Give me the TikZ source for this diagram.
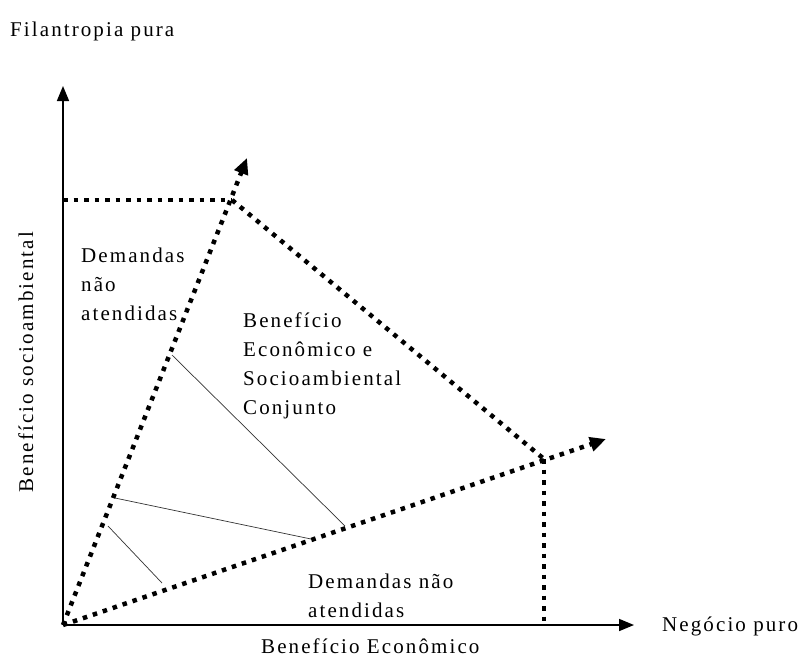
\documentclass[tikz,border=0pt]{standalone}
\usepackage{fontspec}
\setmainfont[LetterSpace=10]{Liberation Serif}
\usetikzlibrary{arrows.meta}
\begin{document}
\begin{tikzpicture}[x=1pt,y=-1pt,
  axis/.style={line width=1.6pt,-{Triangle[length=15pt,width=12pt]}},
  dotline/.style={line width=4.5pt,dash pattern=on 4.5pt off 6pt},
  dotarrow/.style={dotline,-{Triangle[length=16pt,width=14pt]}},
  thinline/.style={line width=0.7pt,black!80},
  lbl/.style={font=\fontsize{21}{29}\selectfont,inner sep=0pt,align=left}]
\useasboundingbox (0,0) rectangle (805,657);
\coordinate (O) at (63,625);
\coordinate (Ytip) at (63,86);
\coordinate (Xtip) at (634,625);
\coordinate (A) at (247,158);
\coordinate (Across) at (232,200);
\coordinate (Yd) at (63,200);
\coordinate (B) at (606,439);
\coordinate (Bcross) at (544,459);
\coordinate (Bd) at (544,622);
\coordinate (p1) at (172,355);
\coordinate (q1) at (345,526);
\coordinate (p2) at (115,498);
\coordinate (q2) at (311,539);
\coordinate (p3) at (108,526);
\coordinate (q3) at (162,583);
% axes
\draw[axis] (O) -- (Ytip);
\draw[axis] (O) -- (Xtip);
% dotted lines
\draw[dotline] (Yd) -- (Across);
\draw[dotline] (Across) -- (Bcross);
\draw[dotline] (Bcross) -- (Bd);
\draw[dotarrow] (O) -- (A);
\draw[dotarrow] (O) -- (B);
% thin lines
\draw[thinline] (p1) -- (q1);
\draw[thinline] (p2) -- (q2);
\draw[thinline] (p3) -- (q3);
% labels
\node[lbl,anchor=base west] (fp) at (10,36) {Filantropia pura};
\node[lbl,rotate=90,anchor=base] (bs) at (33,362) {Benefício socioambiental};
\node[lbl,anchor=base west] (d1) at (81,320) {Demandas\\não\\atendidas};
\node[lbl,anchor=base west] (bc) at (243,414) {Benefício\\Econômico e\\Socioambiental\\Conjunto};
\node[lbl,anchor=base west] (d2) at (308,617) {Demandas não\\atendidas};
\node[lbl,anchor=base west] (be) at (261,653) {Benefício Econômico};
\node[lbl,anchor=base west] (np) at (662,631) {Negócio puro};
\end{tikzpicture}
\end{document}
